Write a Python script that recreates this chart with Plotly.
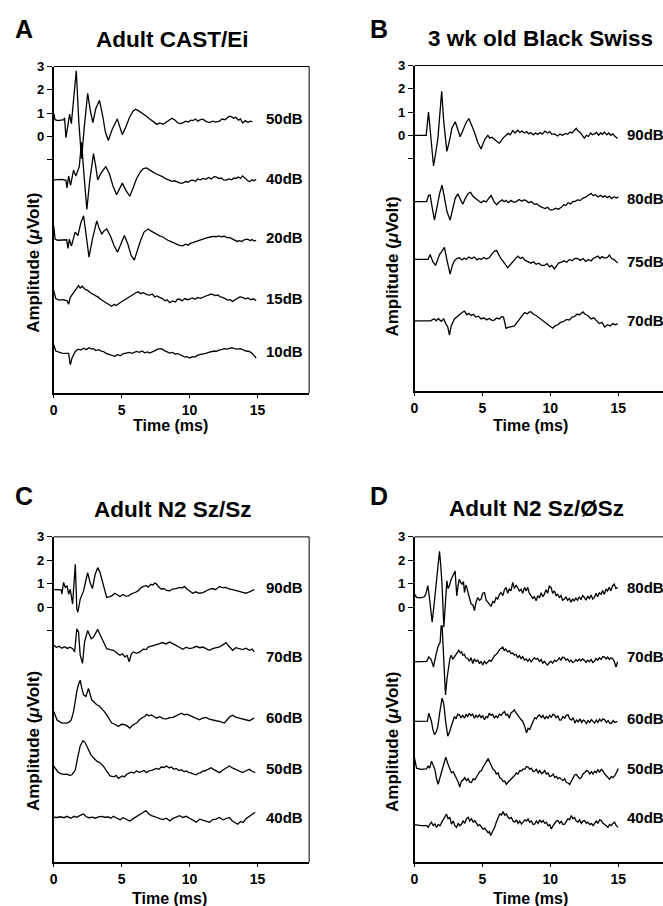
import plotly.graph_objects as go

W, H = 663, 906
FONT = "Liberation Sans, Arial, Helvetica, sans-serif"

# ---------------- data (time ms, amplitude uV with display offset) ----------------
A50 = [(0,1.0),(0.1,0.72),(0.3,0.68),(0.6,0.7),(0.75,0.72),(0.8,0.8),(0.9,-0.05),(1.05,0.5),(1.17,0.96),(1.3,0.55),(1.45,1.4),(1.66,2.82),(1.85,0.6),(2.05,-0.95),(2.25,0.4),(2.5,1.85),(2.7,1.1),(2.88,0.6),(3.1,1.2),(3.37,1.55),(3.6,0.9),(3.8,0.2),(4.02,-0.17),(4.3,0.3),(4.68,0.75),(4.85,0.4),(5.05,0.08),(5.3,0.4),(5.6,0.85),(5.85,1.1),(6.02,1.17),(6.2,1.12),(6.4,1.05),(6.6,0.95),(6.83,0.87),(7.0,0.78),(7.2,0.7),(7.44,0.6),(7.6,0.52),(7.8,0.58),(8.05,0.52),(8.3,0.62),(8.5,0.7),(8.7,0.78),(8.9,0.72),(9.1,0.6),(9.3,0.55),(9.5,0.58),(9.7,0.66),(9.9,0.62),(10.1,0.7),(10.24,0.68),(10.45,0.75),(10.6,0.66),(10.8,0.72),(10.98,0.74),(11.2,0.65),(11.46,0.6),(11.7,0.66),(11.9,0.62),(12.2,0.66),(12.4,0.75),(12.6,0.72),(12.8,0.82),(12.93,0.87),(13.1,0.84),(13.25,0.78),(13.4,0.82),(13.6,0.7),(13.75,0.75),(13.9,0.58),(14.1,0.68),(14.3,0.6),(14.45,0.66),(14.63,0.64)]
A40 = [(0,-1.86),(0.3,-1.86),(0.6,-1.84),(0.9,-1.88),(0.98,-2.2),(1.1,-1.7),(1.24,-2.1),(1.46,-1.44),(1.63,-1.7),(1.88,-1.3),(2.05,-0.25),(2.25,-1.8),(2.44,-3.13),(2.65,-1.9),(2.93,-0.73),(3.1,-1.3),(3.24,-1.86),(3.5,-1.55),(3.83,-1.3),(4.1,-1.6),(4.35,-2.1),(4.63,-2.5),(4.85,-2.2),(5.05,-2.0),(5.3,-2.3),(5.6,-2.56),(5.85,-2.2),(6.1,-1.8),(6.4,-1.5),(6.6,-1.38),(6.83,-1.35),(7.0,-1.42),(7.2,-1.5),(7.4,-1.56),(7.6,-1.62),(7.8,-1.66),(8.0,-1.72),(8.2,-1.8),(8.5,-1.87),(8.7,-1.92),(8.9,-1.9),(9.1,-1.96),(9.3,-2.0),(9.5,-2.0),(9.7,-1.93),(9.9,-1.96),(10.1,-1.88),(10.24,-1.87),(10.45,-1.92),(10.6,-1.82),(10.8,-1.86),(10.98,-1.8),(11.2,-1.84),(11.4,-1.76),(11.6,-1.82),(11.8,-1.72),(11.95,-1.73),(12.15,-1.8),(12.35,-1.78),(12.5,-1.86),(12.7,-1.87),(12.9,-1.82),(13.1,-1.86),(13.25,-1.78),(13.4,-1.8),(13.6,-1.74),(13.75,-1.8),(13.9,-1.69),(14.1,-1.82),(14.25,-1.88),(14.4,-1.94),(14.6,-1.86),(14.75,-1.9),(14.9,-1.83)]
A20 = [(0,-3.83),(0.1,-4.4),(0.3,-4.45),(0.7,-4.45),(0.95,-4.43),(1.05,-4.8),(1.15,-4.4),(1.3,-4.7),(1.45,-4.35),(1.58,-4.1),(1.78,-4.25),(2.0,-3.7),(2.2,-3.4),(2.4,-4.3),(2.6,-5.17),(2.85,-4.4),(3.17,-3.62),(3.35,-3.95),(3.54,-4.18),(3.7,-4.05),(3.9,-3.97),(4.2,-4.3),(4.45,-4.7),(4.7,-4.96),(4.95,-4.6),(5.2,-4.25),(5.45,-4.6),(5.7,-5.1),(5.93,-5.3),(6.15,-4.9),(6.4,-4.45),(6.65,-4.1),(6.83,-4.0),(6.95,-3.97),(7.15,-4.05),(7.35,-4.12),(7.55,-4.2),(7.8,-4.26),(8.0,-4.3),(8.2,-4.38),(8.4,-4.45),(8.6,-4.5),(8.78,-4.54),(9.0,-4.62),(9.2,-4.66),(9.5,-4.69),(9.7,-4.62),(9.9,-4.66),(10.05,-4.58),(10.24,-4.55),(10.45,-4.5),(10.65,-4.46),(10.8,-4.42),(10.98,-4.4),(11.2,-4.36),(11.4,-4.32),(11.6,-4.3),(11.8,-4.28),(11.95,-4.3),(12.15,-4.26),(12.35,-4.3),(12.55,-4.28),(12.75,-4.34),(12.93,-4.33),(13.1,-4.38),(13.3,-4.45),(13.5,-4.5),(13.66,-4.47),(13.85,-4.5),(14.05,-4.42),(14.27,-4.4),(14.45,-4.46),(14.6,-4.42),(14.75,-4.48),(14.9,-4.45)]
A15 = [(0,-6.6),(0.15,-6.95),(0.4,-7.02),(0.7,-7.0),(1.0,-7.05),(1.1,-7.2),(1.22,-6.9),(1.4,-6.75),(1.6,-6.6),(1.83,-6.4),(1.95,-6.5),(2.1,-6.42),(2.3,-6.55),(2.5,-6.6),(2.7,-6.7),(2.93,-6.77),(3.1,-6.85),(3.3,-6.9),(3.5,-7.0),(3.66,-7.06),(3.85,-7.12),(4.05,-7.2),(4.27,-7.28),(4.45,-7.2),(4.6,-7.25),(4.88,-7.13),(5.1,-7.05),(5.35,-6.95),(5.6,-6.84),(5.85,-6.75),(6.05,-6.7),(6.2,-6.66),(6.4,-6.74),(6.6,-6.7),(6.85,-6.78),(7.07,-6.8),(7.25,-6.76),(7.45,-6.88),(7.6,-6.84),(7.8,-6.9),(8.0,-6.95),(8.2,-7.05),(8.35,-7.0),(8.54,-7.13),(8.75,-7.05),(8.95,-7.1),(9.1,-6.98),(9.27,-6.98),(9.45,-7.05),(9.65,-6.95),(9.85,-7.0),(10.0,-6.98),(10.2,-6.92),(10.4,-6.98),(10.6,-6.9),(10.8,-6.94),(10.98,-6.88),(11.2,-6.84),(11.4,-6.8),(11.55,-6.76),(11.7,-6.77),(11.9,-6.82),(12.1,-6.8),(12.25,-6.88),(12.44,-6.9),(12.6,-6.95),(12.8,-7.02),(13.0,-7.0),(13.17,-7.08),(13.35,-7.0),(13.55,-6.95),(13.7,-6.88),(13.9,-6.9),(14.1,-6.96),(14.3,-6.92),(14.5,-7.0),(14.7,-6.96),(14.9,-7.04)]
A10 = [(0,-8.93),(0.15,-9.2),(0.6,-9.29),(0.9,-9.3),(1.1,-9.3),(1.22,-9.79),(1.35,-9.5),(1.59,-9.22),(1.8,-9.12),(2.0,-9.16),(2.2,-9.08),(2.4,-9.14),(2.6,-9.06),(2.8,-9.12),(2.93,-9.1),(3.1,-9.18),(3.3,-9.14),(3.5,-9.2),(3.66,-9.22),(3.85,-9.3),(4.05,-9.34),(4.25,-9.4),(4.5,-9.43),(4.7,-9.36),(4.9,-9.4),(5.1,-9.32),(5.37,-9.29),(5.55,-9.26),(5.75,-9.3),(5.95,-9.24),(6.1,-9.22),(6.3,-9.26),(6.5,-9.2),(6.7,-9.28),(6.9,-9.24),(7.07,-9.29),(7.25,-9.22),(7.45,-9.18),(7.65,-9.12),(7.93,-9.1),(8.15,-9.18),(8.35,-9.24),(8.54,-9.29),(8.75,-9.26),(8.95,-9.34),(9.1,-9.3),(9.27,-9.36),(9.45,-9.42),(9.65,-9.46),(9.8,-9.44),(10.0,-9.5),(10.2,-9.44),(10.4,-9.46),(10.6,-9.38),(10.8,-9.36),(10.98,-9.33),(11.2,-9.3),(11.4,-9.26),(11.6,-9.24),(11.8,-9.2),(11.95,-9.22),(12.15,-9.16),(12.35,-9.14),(12.55,-9.1),(12.75,-9.12),(12.93,-9.08),(13.1,-9.06),(13.3,-9.1),(13.54,-9.12),(13.75,-9.1),(13.95,-9.16),(14.15,-9.2),(14.4,-9.22),(14.6,-9.3),(14.75,-9.4),(14.9,-9.5)]

B90 = [(0,0),(0.5,0),(0.86,0),(1.03,1.0),(1.2,0.0),(1.4,-1.32),(1.55,-0.8),(1.72,-0.13),(1.85,0.8),(2.0,1.89),(2.15,0.6),(2.38,-0.69),(2.55,-0.3),(2.75,0.3),(3.0,0.58),(3.15,0.3),(3.36,-0.06),(3.55,0.2),(3.8,0.55),(4.0,0.72),(4.2,0.45),(4.4,0.15),(4.65,-0.3),(4.9,-0.59),(5.05,-0.35),(5.2,-0.15),(5.4,0.0),(5.55,-0.12),(5.7,-0.08),(5.9,-0.2),(6.05,-0.26),(6.25,-0.34),(6.4,-0.2),(6.55,-0.1),(6.74,0.0),(6.9,0.08),(7.05,0.02),(7.23,0.2),(7.4,0.1),(7.6,0.22),(7.75,0.12),(7.9,0.18),(8.1,0.1),(8.25,0.16),(8.4,0.06),(8.55,0.12),(8.75,0.02),(8.9,0.1),(9.07,0.04),(9.25,0.12),(9.4,0.05),(9.6,0.18),(9.8,0.1),(9.95,0.16),(10.1,0.04),(10.3,0.06),(10.54,-0.03),(10.7,0.05),(10.9,0.0),(11.1,0.08),(11.27,0.04),(11.45,0.14),(11.6,0.1),(11.75,0.22),(11.9,0.3),(12.05,0.18),(12.2,0.12),(12.35,0.0),(12.5,-0.12),(12.65,0.0),(12.8,-0.05),(12.95,0.1),(13.1,0.02),(13.24,0.06),(13.4,0.12),(13.55,0.0),(13.7,0.1),(13.85,0.04),(13.97,0.14),(14.15,0.02),(14.3,0.1),(14.45,0.0),(14.6,0.06),(14.75,-0.04),(14.95,-0.14)]
B80 = [(0,-2.85),(0.5,-2.85),(0.9,-2.85),(1.03,-2.59),(1.15,-2.56),(1.3,-3.1),(1.47,-3.65),(1.65,-3.1),(1.85,-2.5),(2.03,-2.14),(2.2,-2.7),(2.4,-3.3),(2.62,-3.65),(2.8,-3.2),(3.0,-2.7),(3.19,-2.52),(3.3,-2.66),(3.55,-2.97),(3.75,-2.7),(3.95,-2.5),(4.12,-2.45),(4.3,-2.62),(4.53,-2.73),(4.7,-2.8),(4.9,-2.9),(5.1,-2.82),(5.27,-2.87),(5.45,-2.72),(5.64,-2.59),(5.85,-2.85),(6.05,-2.99),(6.25,-2.86),(6.45,-2.78),(6.6,-2.86),(6.74,-2.8),(6.9,-2.9),(7.1,-2.8),(7.3,-2.88),(7.5,-2.85),(7.7,-2.76),(7.9,-2.84),(8.05,-2.78),(8.2,-2.8),(8.4,-2.9),(8.6,-2.85),(8.8,-2.96),(9.0,-2.95),(9.2,-3.05),(9.4,-3.1),(9.6,-3.15),(9.8,-3.1),(10.0,-3.22),(10.2,-3.2),(10.4,-3.14),(10.6,-3.18),(10.8,-3.1),(11.0,-2.98),(11.15,-3.02),(11.3,-2.9),(11.5,-2.95),(11.65,-2.84),(11.8,-2.85),(12.0,-2.78),(12.2,-2.8),(12.4,-2.7),(12.6,-2.66),(12.8,-2.58),(13.0,-2.5),(13.15,-2.6),(13.3,-2.55),(13.5,-2.65),(13.7,-2.58),(13.85,-2.66),(14.0,-2.6),(14.2,-2.68),(14.35,-2.62),(14.5,-2.72),(14.7,-2.64),(14.85,-2.7),(15.0,-2.65)]
B75 = [(0,-5.34),(0.5,-5.34),(1.0,-5.34),(1.15,-5.13),(1.35,-5.44),(1.55,-5.6),(1.84,-5.13),(2.0,-5.0),(2.2,-4.82),(2.4,-5.4),(2.62,-5.97),(2.78,-5.6),(2.94,-5.4),(3.1,-5.3),(3.3,-5.27),(3.5,-5.36),(3.65,-5.28),(3.8,-5.34),(4.0,-5.24),(4.2,-5.3),(4.4,-5.24),(4.6,-5.36),(4.75,-5.3),(4.9,-5.34),(5.1,-5.26),(5.3,-5.32),(5.5,-5.27),(5.7,-5.1),(5.9,-4.98),(6.05,-4.96),(6.2,-5.15),(6.35,-5.3),(6.5,-5.4),(6.7,-5.55),(6.86,-5.7),(7.0,-5.6),(7.2,-5.45),(7.4,-5.3),(7.6,-5.2),(7.8,-5.3),(7.95,-5.25),(8.15,-5.38),(8.35,-5.42),(8.58,-5.5),(8.75,-5.44),(8.95,-5.55),(9.15,-5.5),(9.35,-5.6),(9.56,-5.6),(9.75,-5.52),(9.95,-5.66),(10.1,-5.6),(10.3,-5.75),(10.45,-5.6),(10.6,-5.5),(10.8,-5.46),(11.0,-5.4),(11.2,-5.46),(11.4,-5.34),(11.6,-5.4),(11.8,-5.3),(12.0,-5.3),(12.2,-5.38),(12.4,-5.3),(12.6,-5.42),(12.8,-5.34),(13.0,-5.4),(13.15,-5.3),(13.3,-5.25),(13.5,-5.2),(13.65,-5.3),(13.8,-5.22),(14.0,-5.28),(14.2,-5.25),(14.35,-5.15),(14.5,-5.3),(14.7,-5.35),(14.95,-5.5)]
B70 = [(0,-7.98),(0.6,-7.98),(1.2,-7.98),(1.35,-7.92),(1.47,-7.9),(1.6,-7.98),(1.75,-7.88),(1.96,-8.0),(2.15,-7.9),(2.3,-8.1),(2.45,-8.25),(2.57,-8.6),(2.7,-8.2),(2.94,-7.9),(3.1,-7.82),(3.3,-7.7),(3.5,-7.62),(3.68,-7.56),(3.85,-7.72),(4.0,-7.66),(4.17,-7.75),(4.35,-7.7),(4.5,-7.82),(4.7,-7.78),(4.9,-7.9),(5.1,-7.85),(5.3,-7.94),(5.5,-7.88),(5.7,-7.96),(5.88,-7.95),(6.05,-7.86),(6.25,-7.9),(6.4,-7.8),(6.55,-7.82),(6.74,-8.3),(6.9,-8.26),(7.1,-8.22),(7.35,-8.2),(7.55,-8.05),(7.8,-7.85),(8.0,-7.7),(8.1,-7.63),(8.3,-7.68),(8.45,-7.6),(8.58,-7.6),(8.75,-7.7),(8.95,-7.75),(9.1,-7.82),(9.3,-7.9),(9.5,-8.0),(9.7,-8.1),(9.9,-8.2),(10.05,-8.24),(10.17,-8.3),(10.35,-8.2),(10.55,-8.15),(10.75,-8.05),(11.0,-8.0),(11.2,-7.92),(11.4,-7.95),(11.6,-7.82),(11.76,-7.8),(11.95,-7.7),(12.15,-7.72),(12.4,-7.6),(12.55,-7.7),(12.75,-7.75),(13.0,-7.9),(13.2,-7.85),(13.4,-8.0),(13.6,-8.1),(13.8,-8.05),(14.0,-8.25),(14.2,-8.15),(14.4,-8.2),(14.6,-8.1),(14.8,-8.15),(14.95,-8.1)]

C90 = [(0,0.75),(0.3,0.75),(0.56,0.74),(0.6,0.56),(0.73,1.06),(0.85,0.85),(0.98,0.92),(1.1,0.56),(1.22,0.77),(1.39,0.14),(1.5,1.0),(1.59,1.83),(1.7,-0.07),(1.78,-0.21),(1.95,0.35),(2.2,0.7),(2.35,1.1),(2.5,1.48),(2.68,1.06),(2.85,0.8),(3.05,1.4),(3.24,1.69),(3.4,1.5),(3.54,1.2),(3.7,0.8),(3.9,0.42),(4.15,0.46),(4.3,0.5),(4.5,0.6),(4.7,0.52),(4.88,0.46),(5.1,0.55),(5.3,0.48),(5.5,0.49),(5.75,0.58),(6.0,0.63),(6.2,0.7),(6.4,0.82),(6.6,0.89),(6.83,0.92),(6.95,0.86),(7.15,0.98),(7.3,0.95),(7.44,1.03),(7.56,1.0),(7.75,0.85),(7.93,0.77),(8.1,0.8),(8.3,0.72),(8.54,0.7),(8.75,0.78),(9.0,0.8),(9.27,0.85),(9.45,0.82),(9.63,0.89),(9.8,0.78),(10.0,0.68),(10.24,0.6),(10.45,0.66),(10.7,0.6),(10.98,0.63),(11.2,0.7),(11.46,0.77),(11.7,0.8),(11.9,0.75),(12.2,0.89),(12.4,0.84),(12.68,0.85),(12.9,0.78),(13.15,0.75),(13.41,0.7),(13.65,0.68),(13.9,0.64),(14.15,0.6),(14.4,0.66),(14.6,0.7),(14.76,0.75)]
C70 = [(0,-1.62),(0.2,-1.7),(0.4,-1.66),(0.6,-1.74),(0.8,-1.68),(1.0,-1.75),(1.2,-1.7),(1.4,-1.76),(1.54,-1.9),(1.7,-0.92),(1.83,-1.06),(1.95,-2.04),(2.12,-2.39),(2.27,-1.48),(2.5,-0.99),(2.65,-1.2),(2.76,-1.34),(2.93,-1.27),(3.1,-1.05),(3.24,-0.94),(3.4,-1.15),(3.54,-1.34),(3.75,-1.6),(3.9,-1.76),(4.15,-1.8),(4.4,-1.83),(4.6,-1.92),(4.88,-2.04),(5.05,-1.98),(5.24,-2.11),(5.4,-2.05),(5.56,-2.32),(5.7,-2.0),(5.85,-1.9),(6.1,-1.96),(6.34,-1.9),(6.6,-1.78),(6.8,-1.8),(6.95,-1.69),(7.15,-1.66),(7.3,-1.62),(7.5,-1.58),(7.68,-1.55),(7.8,-1.55),(8.0,-1.5),(8.25,-1.56),(8.54,-1.48),(8.75,-1.56),(9.0,-1.62),(9.25,-1.7),(9.5,-1.79),(9.75,-1.7),(10.0,-1.76),(10.24,-1.73),(10.5,-1.66),(10.75,-1.72),(10.98,-1.69),(11.2,-1.76),(11.46,-1.83),(11.7,-1.76),(11.95,-1.72),(12.2,-1.69),(12.45,-1.6),(12.68,-1.5),(12.9,-1.66),(13.17,-1.83),(13.4,-1.72),(13.66,-1.76),(13.9,-1.8),(14.15,-1.74),(14.4,-1.83),(14.6,-1.78),(14.76,-1.9)]
C60 = [(0,-4.44),(0.25,-4.8),(0.6,-4.93),(0.98,-4.93),(1.15,-4.88),(1.29,-4.79),(1.46,-4.44),(1.6,-3.9),(1.7,-3.59),(1.82,-3.3),(1.95,-3.1),(2.05,-3.4),(2.2,-3.73),(2.37,-3.8),(2.56,-3.45),(2.68,-3.7),(2.8,-3.94),(3.0,-4.05),(3.17,-4.15),(3.35,-4.2),(3.54,-4.3),(3.7,-4.42),(3.9,-4.58),(4.1,-4.75),(4.27,-4.93),(4.5,-4.98),(4.76,-5.07),(5.0,-4.98),(5.24,-5.0),(5.4,-5.05),(5.6,-5.14),(5.85,-5.0),(6.1,-4.93),(6.3,-4.8),(6.5,-4.7),(6.7,-4.65),(6.83,-4.56),(7.0,-4.62),(7.2,-4.58),(7.4,-4.66),(7.56,-4.72),(7.8,-4.66),(8.05,-4.74),(8.3,-4.75),(8.55,-4.7),(8.78,-4.69),(9.0,-4.62),(9.2,-4.56),(9.4,-4.51),(9.6,-4.58),(9.8,-4.55),(10.0,-4.6),(10.2,-4.66),(10.45,-4.74),(10.73,-4.79),(10.95,-4.72),(11.2,-4.69),(11.45,-4.76),(11.7,-4.78),(11.95,-4.83),(12.2,-4.86),(12.4,-4.9),(12.56,-4.93),(12.75,-4.8),(12.95,-4.66),(13.17,-4.6),(13.4,-4.68),(13.66,-4.72),(13.9,-4.76),(14.15,-4.8),(14.4,-4.83),(14.6,-4.76),(14.76,-4.72)]
C50 = [(0,-6.76),(0.3,-7.0),(0.5,-7.08),(0.73,-7.11),(1.0,-7.1),(1.15,-7.16),(1.34,-7.13),(1.59,-6.93),(1.76,-6.41),(1.95,-5.9),(2.15,-5.68),(2.3,-5.75),(2.44,-5.92),(2.6,-6.1),(2.73,-6.27),(2.95,-6.42),(3.17,-6.55),(3.4,-6.62),(3.66,-6.76),(3.9,-6.98),(4.15,-7.18),(4.45,-7.22),(4.6,-7.16),(4.76,-7.28),(5.05,-7.18),(5.2,-7.22),(5.37,-7.11),(5.7,-7.02),(5.9,-7.06),(6.1,-6.97),(6.3,-7.03),(6.45,-7.0),(6.65,-6.95),(6.83,-7.04),(7.0,-6.97),(7.2,-6.94),(7.4,-6.9),(7.56,-6.86),(7.75,-6.9),(7.9,-6.8),(8.1,-6.82),(8.3,-6.76),(8.5,-6.84),(8.65,-6.8),(8.85,-6.9),(9.02,-6.86),(9.2,-6.95),(9.4,-6.92),(9.6,-7.0),(9.76,-6.97),(9.95,-7.04),(10.1,-7.05),(10.3,-7.1),(10.5,-7.13),(10.65,-7.06),(10.8,-7.05),(10.95,-6.98),(11.1,-6.97),(11.35,-6.9),(11.59,-6.83),(11.75,-6.9),(11.9,-6.95),(12.05,-6.98),(12.2,-7.04),(12.4,-6.95),(12.55,-6.9),(12.75,-6.84),(12.93,-6.76),(13.15,-6.84),(13.41,-6.9),(13.65,-6.98),(13.9,-7.04),(14.15,-6.96),(14.4,-6.9),(14.6,-6.98),(14.83,-7.04)]
C40 = [(0,-8.94),(0.25,-8.95),(0.5,-8.92),(0.75,-8.96),(1.0,-8.9),(1.25,-8.98),(1.5,-8.9),(1.7,-8.94),(1.95,-8.86),(2.2,-8.8),(2.4,-8.92),(2.6,-8.96),(2.85,-8.94),(3.05,-8.98),(3.3,-8.92),(3.55,-8.9),(3.8,-8.95),(4.0,-8.92),(4.2,-8.98),(4.4,-8.9),(4.65,-8.98),(4.9,-9.05),(5.1,-8.96),(5.35,-9.02),(5.6,-9.1),(5.85,-9.0),(6.1,-8.92),(6.34,-8.83),(6.55,-8.75),(6.78,-8.66),(7.0,-8.8),(7.2,-8.87),(7.4,-8.9),(7.6,-8.95),(7.8,-9.0),(8.05,-9.04),(8.3,-8.98),(8.54,-9.1),(8.75,-9.0),(9.0,-8.95),(9.27,-8.87),(9.5,-8.95),(9.75,-8.9),(10.0,-8.98),(10.25,-9.05),(10.5,-9.15),(10.75,-9.02),(10.98,-9.05),(11.2,-9.1),(11.46,-9.15),(11.7,-9.04),(11.95,-9.02),(12.2,-8.95),(12.45,-9.05),(12.7,-9.0),(12.93,-8.95),(13.15,-9.1),(13.35,-9.18),(13.54,-9.24),(13.75,-9.12),(13.95,-9.16),(14.15,-9.0),(14.4,-8.9),(14.6,-8.8),(14.83,-8.73)]

D80 = [(0,0.56),(0.15,0.42),(0.4,0.4),(0.73,0.45),(0.85,0.6),(0.98,0.92),(1.1,0.4),(1.2,-0.2),(1.3,-0.63),(1.42,0.0),(1.54,0.63),(1.7,1.6),(1.84,2.39),(1.93,1.8),(2.03,0.92),(2.16,-0.85),(2.27,0.2),(2.38,1.13),(2.47,0.8),(2.57,0.92),(2.7,1.2),(2.82,1.34),(2.99,1.55),(3.05,1.0),(3.11,0.49),(3.2,0.9),(3.3,1.2),(3.4,1.05),(3.5,0.99),(3.6,1.1),(3.68,0.63),(3.77,0.95),(3.85,0.85),(3.95,0.6),(4.05,0.4),(4.17,0.14),(4.3,0.1),(4.41,-0.14),(4.52,0.2),(4.66,0.42),(4.78,0.3),(4.9,0.35),(5.02,0.6),(5.15,0.63),(5.28,0.3),(5.4,0.21),(5.52,0.1),(5.64,0.04),(5.76,0.25),(5.88,0.2),(6.0,0.42),(6.12,0.35),(6.25,0.55),(6.37,0.63),(6.5,0.5),(6.62,0.75),(6.74,0.85),(6.86,0.6),(6.98,0.78),(7.1,0.7),(7.23,1.06),(7.35,0.8),(7.48,0.95),(7.6,0.85),(7.72,0.7),(7.84,0.77),(7.96,0.6),(8.1,0.85),(8.22,0.7),(8.33,0.85),(8.45,0.6),(8.58,0.5),(8.7,0.38),(8.82,0.45),(8.95,0.28),(9.07,0.5),(9.2,0.4),(9.32,0.62),(9.44,0.45),(9.56,0.56),(9.68,0.75),(9.8,0.6),(9.92,0.9),(10.05,0.85),(10.17,0.6),(10.3,0.7),(10.42,0.5),(10.54,0.56),(10.66,0.42),(10.78,0.5),(10.9,0.3),(11.03,0.35),(11.15,0.45),(11.27,0.3),(11.4,0.38),(11.52,0.22),(11.64,0.35),(11.76,0.28),(11.88,0.4),(12.0,0.3),(12.13,0.45),(12.25,0.32),(12.38,0.5),(12.5,0.42),(12.62,0.3),(12.75,0.48),(12.87,0.38),(13.0,0.52),(13.12,0.35),(13.24,0.42),(13.36,0.6),(13.48,0.45),(13.6,0.62),(13.73,0.56),(13.85,0.72),(13.97,0.55),(14.1,0.78),(14.2,0.7),(14.33,0.85),(14.45,0.7),(14.58,0.92),(14.7,0.99),(14.82,0.8),(14.95,0.85)]
D70 = [(0,-2.32),(0.5,-2.32),(0.9,-2.3),(1.05,-2.11),(1.2,-2.2),(1.3,-2.35),(1.4,-2.54),(1.55,-2.1),(1.72,-1.69),(1.89,-1.48),(1.96,-0.8),(2.03,-0.77),(2.15,-2.5),(2.28,-3.73),(2.4,-3.0),(2.52,-2.39),(2.6,-2.2),(2.7,-2.04),(2.82,-2.2),(2.94,-2.11),(3.06,-2.0),(3.16,-1.9),(3.26,-1.83),(3.38,-1.95),(3.48,-1.9),(3.55,-2.04),(3.66,-2.0),(3.78,-2.15),(3.92,-2.18),(4.04,-2.3),(4.16,-2.15),(4.29,-2.39),(4.4,-2.2),(4.52,-2.3),(4.66,-2.25),(4.78,-2.4),(4.9,-2.3),(5.02,-2.46),(5.15,-2.3),(5.28,-2.4),(5.4,-2.32),(5.52,-2.25),(5.64,-2.3),(5.76,-2.15),(5.9,-2.05),(6.02,-2.0),(6.13,-1.93),(6.25,-1.8),(6.38,-1.75),(6.5,-1.69),(6.6,-1.85),(6.7,-1.78),(6.86,-1.9),(6.98,-1.85),(7.1,-1.97),(7.22,-1.95),(7.35,-2.04),(7.48,-2.0),(7.6,-2.15),(7.72,-2.05),(7.84,-2.18),(7.96,-2.1),(8.1,-2.25),(8.22,-2.2),(8.34,-2.3),(8.46,-2.2),(8.58,-2.32),(8.7,-2.25),(8.82,-2.15),(8.95,-2.2),(9.07,-2.18),(9.2,-2.3),(9.32,-2.22),(9.44,-2.38),(9.56,-2.3),(9.68,-2.4),(9.8,-2.46),(9.92,-2.35),(10.05,-2.3),(10.17,-2.38),(10.3,-2.25),(10.42,-2.3),(10.54,-2.25),(10.66,-2.15),(10.78,-2.25),(10.9,-2.12),(11.03,-2.15),(11.15,-2.25),(11.27,-2.2),(11.4,-2.32),(11.52,-2.25),(11.64,-2.35),(11.76,-2.32),(11.88,-2.22),(12.0,-2.3),(12.13,-2.2),(12.25,-2.28),(12.38,-2.2),(12.5,-2.25),(12.62,-2.35),(12.75,-2.25),(12.87,-2.32),(13.0,-2.22),(13.12,-2.35),(13.24,-2.3),(13.36,-2.18),(13.48,-2.25),(13.6,-2.15),(13.73,-2.22),(13.85,-2.1),(13.97,-2.11),(14.1,-2.2),(14.22,-2.12),(14.34,-2.22),(14.46,-2.15),(14.58,-2.18),(14.7,-2.3),(14.83,-2.54),(14.95,-2.32)]
D60 = [(0,-4.86),(0.5,-4.86),(0.95,-4.85),(1.05,-4.51),(1.15,-4.7),(1.25,-4.86),(1.35,-5.2),(1.47,-5.42),(1.6,-5.3),(1.72,-5.07),(1.85,-4.5),(1.95,-4.1),(2.03,-3.87),(2.1,-4.0),(2.16,-4.15),(2.3,-4.9),(2.45,-5.49),(2.58,-5.3),(2.7,-5.07),(2.82,-4.85),(2.94,-4.65),(3.06,-4.75),(3.18,-4.55),(3.3,-4.58),(3.42,-4.7),(3.55,-4.6),(3.68,-4.72),(3.8,-4.55),(3.92,-4.65),(4.04,-4.51),(4.16,-4.62),(4.28,-4.55),(4.41,-4.72),(4.53,-4.6),(4.65,-4.68),(4.78,-4.58),(4.9,-4.7),(5.02,-4.62),(5.15,-4.79),(5.27,-4.65),(5.38,-4.7),(5.5,-4.51),(5.62,-4.6),(5.75,-4.55),(5.88,-4.72),(6.0,-4.62),(6.12,-4.7),(6.25,-4.55),(6.38,-4.6),(6.5,-4.5),(6.62,-4.44),(6.74,-4.6),(6.86,-4.55),(6.98,-4.72),(7.1,-4.5),(7.22,-4.45),(7.35,-4.37),(7.48,-4.5),(7.6,-4.6),(7.72,-4.72),(7.84,-4.78),(7.96,-4.85),(8.1,-5.05),(8.24,-5.35),(8.36,-5.15),(8.48,-5.2),(8.6,-5.0),(8.73,-4.86),(8.85,-4.7),(8.97,-4.75),(9.1,-4.62),(9.2,-4.58),(9.33,-4.7),(9.45,-4.6),(9.58,-4.76),(9.7,-4.65),(9.83,-4.72),(9.95,-4.6),(10.07,-4.68),(10.2,-4.55),(10.3,-4.58),(10.42,-4.7),(10.55,-4.62),(10.68,-4.8),(10.8,-4.79),(10.92,-4.65),(11.05,-4.72),(11.17,-4.6),(11.3,-4.58),(11.42,-4.75),(11.55,-4.8),(11.68,-4.7),(11.8,-4.93),(11.92,-4.8),(12.05,-4.88),(12.17,-4.75),(12.3,-4.9),(12.42,-4.8),(12.52,-4.83),(12.65,-4.95),(12.78,-4.82),(12.9,-4.9),(13.02,-4.78),(13.15,-4.88),(13.26,-4.93),(13.38,-4.8),(13.5,-4.9),(13.62,-4.76),(13.75,-4.85),(13.87,-4.75),(14.0,-4.79),(14.12,-4.9),(14.25,-4.82),(14.38,-4.95),(14.5,-4.93),(14.62,-4.82),(14.75,-4.9),(14.93,-4.86)]
D50 = [(0,-6.41),(0.15,-6.85),(0.5,-6.9),(0.88,-6.88),(1.0,-6.76),(1.12,-6.85),(1.25,-6.55),(1.38,-6.75),(1.5,-6.9),(1.62,-7.3),(1.74,-7.54),(1.85,-7.3),(1.98,-7.0),(2.1,-6.83),(2.2,-6.6),(2.3,-6.38),(2.45,-6.65),(2.6,-6.9),(2.72,-7.05),(2.85,-7.0),(2.97,-7.18),(3.1,-7.3),(3.22,-7.45),(3.33,-7.65),(3.45,-7.4),(3.58,-7.35),(3.7,-7.25),(3.82,-7.38),(3.95,-7.3),(4.07,-7.45),(4.19,-7.46),(4.32,-7.3),(4.44,-7.35),(4.56,-7.2),(4.68,-7.11),(4.8,-7.0),(4.93,-6.95),(5.05,-6.8),(5.17,-6.69),(5.3,-6.55),(5.42,-6.44),(5.54,-6.6),(5.66,-6.75),(5.78,-6.9),(5.9,-6.95),(6.02,-7.1),(6.15,-7.05),(6.27,-7.25),(6.4,-7.3),(6.52,-7.42),(6.64,-7.4),(6.76,-7.54),(6.88,-7.45),(7.0,-7.38),(7.13,-7.3),(7.25,-7.25),(7.38,-7.15),(7.5,-7.05),(7.62,-7.1),(7.75,-6.95),(7.87,-6.97),(8.0,-6.88),(8.12,-6.9),(8.24,-6.78),(8.36,-6.8),(8.48,-6.9),(8.6,-6.85),(8.73,-7.0),(8.85,-6.97),(8.97,-6.9),(9.1,-7.05),(9.22,-6.95),(9.34,-7.08),(9.46,-7.04),(9.58,-6.95),(9.7,-7.1),(9.83,-7.05),(9.95,-7.2),(10.07,-7.18),(10.2,-7.1),(10.32,-7.25),(10.44,-7.2),(10.56,-7.3),(10.68,-7.25),(10.8,-7.32),(10.92,-7.38),(11.05,-7.3),(11.17,-7.45),(11.3,-7.48),(11.42,-7.54),(11.54,-7.4),(11.66,-7.25),(11.78,-7.15),(11.9,-7.11),(12.03,-7.2),(12.15,-7.3),(12.28,-7.25),(12.4,-7.1),(12.52,-7.05),(12.65,-6.95),(12.77,-6.97),(12.9,-7.1),(13.02,-7.0),(13.14,-7.1),(13.26,-6.98),(13.38,-7.04),(13.5,-6.92),(13.62,-7.02),(13.75,-6.9),(13.87,-6.97),(14.0,-7.1),(14.12,-7.2),(14.24,-7.25),(14.36,-7.32),(14.48,-7.2),(14.6,-7.25),(14.73,-7.18),(14.85,-7.05),(15.0,-6.86)]
D40 = [(0,-9.25),(0.5,-9.3),(0.9,-9.3),(1.0,-9.37),(1.12,-9.25),(1.25,-9.15),(1.38,-9.3),(1.5,-9.22),(1.62,-9.37),(1.75,-9.25),(1.87,-9.3),(1.98,-9.15),(2.1,-9.05),(2.22,-8.95),(2.35,-8.8),(2.47,-9.0),(2.6,-8.95),(2.72,-9.23),(2.85,-9.1),(2.97,-9.3),(3.09,-9.37),(3.22,-9.2),(3.34,-9.3),(3.46,-9.23),(3.58,-9.1),(3.7,-9.2),(3.83,-9.0),(3.95,-8.94),(4.07,-9.1),(4.2,-9.0),(4.32,-9.15),(4.44,-9.08),(4.56,-9.2),(4.68,-9.3),(4.8,-9.25),(4.93,-9.37),(5.05,-9.45),(5.17,-9.4),(5.29,-9.51),(5.42,-9.6),(5.52,-9.55),(5.6,-9.72),(5.7,-9.6),(5.8,-9.5),(5.9,-9.37),(6.02,-9.15),(6.15,-8.95),(6.27,-8.8),(6.4,-8.85),(6.52,-8.7),(6.64,-8.85),(6.76,-8.8),(6.89,-8.94),(7.0,-9.0),(7.13,-8.95),(7.25,-9.1),(7.38,-9.15),(7.5,-9.05),(7.62,-9.2),(7.75,-9.1),(7.87,-9.23),(8.0,-9.15),(8.12,-9.05),(8.24,-9.1),(8.36,-9.01),(8.48,-9.15),(8.6,-9.1),(8.73,-9.25),(8.85,-9.23),(8.97,-9.1),(9.1,-9.2),(9.22,-9.05),(9.34,-9.15),(9.46,-9.08),(9.58,-9.2),(9.7,-9.15),(9.83,-9.3),(9.95,-9.25),(10.07,-9.44),(10.2,-9.3),(10.32,-9.2),(10.44,-9.1),(10.56,-9.08),(10.68,-9.2),(10.8,-9.1),(10.92,-9.25),(11.05,-9.23),(11.17,-9.1),(11.3,-9.0),(11.42,-9.05),(11.54,-8.87),(11.66,-9.0),(11.78,-8.95),(11.9,-9.1),(12.03,-9.15),(12.15,-9.05),(12.28,-9.2),(12.4,-9.1),(12.52,-9.08),(12.65,-9.2),(12.77,-9.15),(12.9,-9.25),(13.02,-9.2),(13.14,-9.3),(13.26,-9.2),(13.38,-9.1),(13.5,-9.2),(13.62,-9.05),(13.75,-9.08),(13.87,-9.2),(14.0,-9.25),(14.12,-9.3),(14.24,-9.37),(14.36,-9.25),(14.48,-9.3),(14.6,-9.2),(14.73,-9.15),(14.85,-9.3),(14.98,-9.37)]

PANEL_TITLES = ["Adult CAST/Ei", "3 wk old Black Swiss", "Adult N2 Sz/Sz", "Adult N2 Sz/\u00d8Sz"]
PANEL_LETTERS = ["A", "B", "C", "D"]
PANEL_TRACES = [
    [("50dB", A50, 0.77), ("40dB", A40, -1.79), ("20dB", A20, -4.34), ("15dB", A15, -6.94), ("10dB", A10, -9.23)],
    [("90dB", B90, 0.04), ("80dB", B80, -2.7), ("75dB", B75, -5.41), ("70dB", B70, -7.98)],
    [("90dB", C90, 0.84), ("70dB", C70, -2.11), ("60dB", C60, -4.71), ("50dB", C50, -6.86), ("40dB", C40, -8.97)],
    [("80dB", D80, 0.84), ("70dB", D70, -2.11), ("60dB", D60, -4.74), ("50dB", D50, -6.86), ("40dB", D40, -8.97)],
]
Y_TICKS = [3, 2, 1, 0, -1]
Y_TICKTEXT = ["3", "2", "1", "0", ""]
X_TICKS = [0, 5, 10, 15]

# ---------------- layout geometry (pixels) ----------------
BOX = [(50, 307, 60, 389, 18.8, -11.0),
       (413, 663, 59, 387, 18.29, -11.0),
       (50, 307, 534, 862, 18.8, -10.86),
       (413, 663, 534, 862, 18.29, -10.86)]
TITLE_POS = [(170, 33), (540, 32), (170, 506), (536, 505)]
LETTER_POS = [(20, 22), (377, 22), (20, 493), (377, 493)]
TIME_POS = [(168, 422), (530, 422), (167, 898), (530, 898)]
AMP_POS = [(29, 258), (391, 262), (29, 740), (391, 741)]

def px(x): return x / W
def py(y): return 1 - y / H

fig = go.Figure()
layout = dict(width=W, height=H, margin=dict(l=0, r=0, t=0, b=0),
              paper_bgcolor="white", plot_bgcolor="white", showlegend=False,
              font=dict(family=FONT, color="black"))
annotations = []
shapes = []

for i in range(4):
    l, r, t, b, xmax, ymin = BOX[i]
    sx = "" if i == 0 else str(i + 1)
    xa, ya = "x" + sx, "y" + sx
    for name, data, ly in PANEL_TRACES[i]:
        xs = [p[0] for p in data]
        ys = [p[1] for p in data]
        fig.add_trace(go.Scatter(x=xs, y=ys, mode="lines", xaxis=xa, yaxis=ya,
                                 line=dict(color="black", width=1.3), hoverinfo="skip"))
        annotations.append(dict(x=15.5, y=ly, xref=xa, yref=ya, xanchor="left", yanchor="middle",
                                text=name, showarrow=False,
                                font=dict(size=15, family=FONT, color="black", weight="bold")))
    layout["xaxis" + sx] = dict(domain=[px(l), px(r)], anchor=ya, range=[0, xmax],
                                tickvals=X_TICKS, ticks="outside", ticklen=3, tickwidth=1,
                                tickcolor="black", showline=True, linewidth=2, linecolor="black",
                                showgrid=False, zeroline=False, fixedrange=True,
                                tickfont=dict(size=14, family=FONT, color="black", weight="bold"))
    layout["yaxis" + sx] = dict(domain=[py(b), py(t)], anchor=xa, range=[ymin, 3],
                                tickvals=Y_TICKS, ticktext=Y_TICKTEXT, ticks="outside", ticklen=5,
                                tickwidth=1, tickcolor="black", showline=True, linewidth=1.5,
                                linecolor="black", showgrid=False, zeroline=False, fixedrange=True,
                                tickfont=dict(size=13, family=FONT, color="black", weight="bold"))
    shapes.append(dict(type="line", xref="paper", yref="paper", x0=px(l), x1=px(r), y0=py(t), y1=py(t),
                       line=dict(color="black", width=1)))
    if r < W:
        shapes.append(dict(type="line", xref="paper", yref="paper", x0=px(r), x1=px(r), y0=py(t), y1=py(b),
                           line=dict(color="black", width=1)))
    annotations.append(dict(x=px(TITLE_POS[i][0]), y=py(TITLE_POS[i][1]), xref="paper", yref="paper",
                            xanchor="center", yanchor="middle", text=PANEL_TITLES[i], showarrow=False,
                            font=dict(size=22.5, family=FONT, color="black", weight="bold")))
    annotations.append(dict(x=px(LETTER_POS[i][0]), y=py(LETTER_POS[i][1]), xref="paper", yref="paper",
                            xanchor="center", yanchor="middle", text=PANEL_LETTERS[i], showarrow=False,
                            font=dict(size=25, family=FONT, color="black", weight="bold")))
    annotations.append(dict(x=px(TIME_POS[i][0]), y=py(TIME_POS[i][1]), xref="paper", yref="paper",
                            xanchor="center", yanchor="middle", text="Time (ms)", showarrow=False,
                            font=dict(size=16, family=FONT, color="black", weight="bold")))
    annotations.append(dict(x=px(AMP_POS[i][0]), y=py(AMP_POS[i][1]), xref="paper", yref="paper",
                            xanchor="center", yanchor="middle", text="Amplitude (<i>\u03bc</i>Volt)",
                            textangle=-90, showarrow=False,
                            font=dict(size=17, family=FONT, color="black", weight="bold")))

layout["annotations"] = annotations
layout["shapes"] = shapes
fig.update_layout(**layout)
fig.write_html("out.html", config={"displayModeBar": False},
               post_script="document.body.style.margin='0';document.body.style.padding='0';"
                           "document.documentElement.style.overflow='hidden';")
